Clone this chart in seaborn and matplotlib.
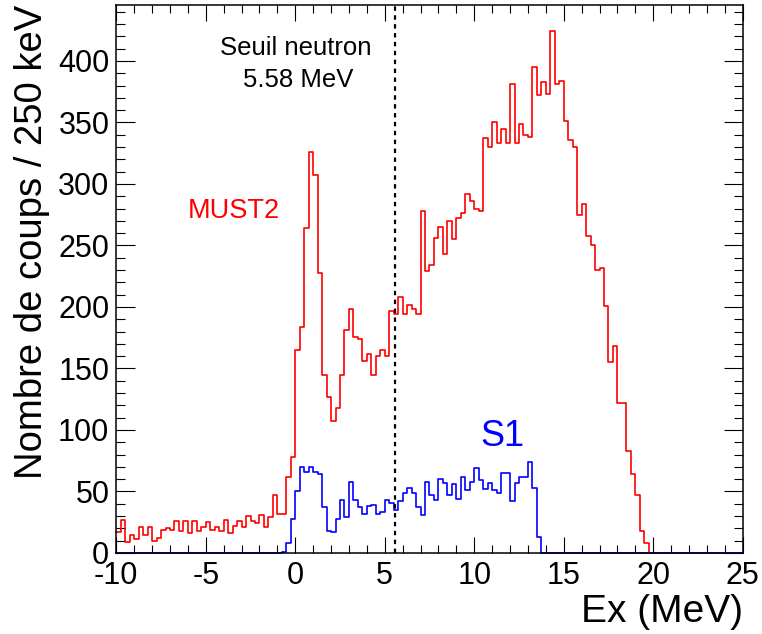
import numpy as np
import pandas as pd
import matplotlib
matplotlib.use("Agg")
import matplotlib.pyplot as plt
import seaborn as sns
from matplotlib.ticker import MultipleLocator

# ---------------- data (counts per 250 keV bin) ----------------
bin_width = 0.25
must2_range = (-10.0, 20.0)
s1_range = (-10.0, 25.0)

must2_counts = [
    # -10 .. 0
    17, 27, 9, 15, 11, 21, 15, 21, 10, 12,
    19, 20, 19, 26, 18, 26, 16, 26, 18, 21,
    25, 19, 21, 18, 27, 16, 22, 26, 21, 30,
    26, 24, 31, 21, 29, 47, 32, 32, 62, 78,
    # 0 .. 5.5
    165, 184, 264, 326, 307, 228, 145, 127, 107, 118, 145,
    181, 198, 176, 174, 156, 162, 145, 160, 165, 160, 197,
    # 5.5 .. 10.5
    194, 208, 194, 202, 198, 194, 278, 229, 234, 256,
    265, 243, 270, 255, 272, 276, 292, 286, 280, 278,
    # 10.5 .. 15.75
    337, 330, 350, 333, 345, 333, 381, 333, 349, 340, 338,
    395, 372, 383, 373, 424, 381, 384, 351, 336, 330,
    # 15.75 .. 20
    275, 284, 258, 250, 230, 232, 201, 155, 168, 122, 122,
    83, 64, 47, 18, 8, 0,
]

s1_counts = [0] * 37 + [
    # -0.75 .. 0
    1, 8, 28,
    # 0 .. 6.5
    50, 70, 66, 70, 66, 64, 37, 18, 17, 28, 43, 29, 58,
    43, 37, 32, 38, 39, 32, 33, 43, 41, 35, 42, 49, 53,
    # 6.5 .. 13.75
    49, 37, 31, 58, 47, 43, 60, 57, 47, 56, 44, 62, 51, 58, 69,
    59, 52, 57, 51, 49, 65, 65, 42, 57, 62, 62, 74, 53, 13,
] + [0] * 45

threshold = 5.58
x_ticks = [-10, -5, 0, 5, 10, 15, 20, 25]
y_ticks = [0, 50, 100, 150, 200, 250, 300, 350, 400]

# ---------------- build tables ----------------
def make_df(counts, rng, name):
    edges = np.arange(len(counts) + 1) * bin_width + rng[0]
    centers = 0.5 * (edges[:-1] + edges[1:])
    return pd.DataFrame({"Ex": centers, "counts": np.asarray(counts, float), "det": name})

df_m = make_df(must2_counts, must2_range, "MUST2")
df_s = make_df(s1_counts, s1_range, "S1")

# ---------------- style ----------------
sns.set_style("ticks")
plt.rcParams["font.family"] = ["Liberation Sans", "DejaVu Sans"]
plt.rcParams["axes.unicode_minus"] = False
plt.rcParams["text.color"] = "black"
plt.rcParams["axes.labelcolor"] = "black"
plt.rcParams["xtick.color"] = "black"
plt.rcParams["ytick.color"] = "black"
plt.rcParams["axes.edgecolor"] = "black"

fig = plt.figure(figsize=(7.62, 6.34), dpi=100)
ax = fig.add_axes([116.3 / 762, 81 / 634, 626.4 / 762, 548 / 634])

sns.histplot(data=df_m, x="Ex", weights="counts", binwidth=bin_width,
             binrange=must2_range, element="step", fill=False,
             color="#ff0000", linewidth=1.2, ax=ax)
sns.histplot(data=df_s, x="Ex", weights="counts", binwidth=bin_width,
             binrange=s1_range, element="step", fill=False,
             color="#0000ff", linewidth=1.2, ax=ax)
for ln in ax.lines:
    ln.set_clip_on(False)

ax.axvline(threshold, color="black", linestyle=(0, (2.0, 2.0)), linewidth=1.6)

ax.set_xlim(-10, 25)
ax.set_ylim(0, 445.5)
ax.set_xticks(x_ticks)
ax.set_yticks(y_ticks)
ax.xaxis.set_minor_locator(MultipleLocator(1))
ax.yaxis.set_minor_locator(MultipleLocator(10))
ax.tick_params(which="both", direction="in", top=True, right=True,
               color="black", labelcolor="black", width=0.8)
ax.tick_params(axis="x", which="major", length=11.5, labelsize=22, pad=6)
ax.tick_params(axis="x", which="minor", length=5.8)
ax.tick_params(axis="y", which="major", length=13.5, labelsize=22, pad=5)
ax.tick_params(axis="y", which="minor", length=6.5)
for s in ax.spines.values():
    s.set_linewidth(1.1)
    s.set_color("black")

ax.set_xlabel("Ex (MeV)", fontsize=28, loc="right", labelpad=2, color="black")
ax.set_ylabel("Nombre de coups / 250 keV", fontsize=27.5, loc="top",
              labelpad=6, color="black")

ax.text(0.0, 405, "Seuil neutron", fontsize=18.5, ha="center", va="baseline", color="black")
ax.text(0.17, 379, "5.58 MeV", fontsize=18.5, ha="center", va="baseline", color="black")
ax.text(-3.46, 272.4, "MUST2", fontsize=19.5, color="#ff0000", ha="center", va="baseline")
ax.text(11.55, 87, "S1", fontsize=26, color="#0000ff", ha="center", va="baseline")

fig.savefig("out.png", dpi=100)
